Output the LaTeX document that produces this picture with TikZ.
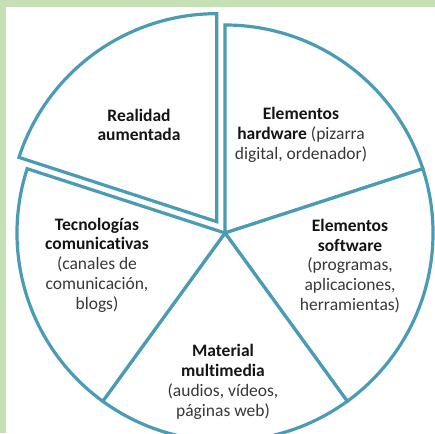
\documentclass[tikz,border=0pt]{standalone}
\usepackage{fontspec}
\setmainfont[Ligatures=NoCommon]{Carlito}
\usetikzlibrary{calc}
\definecolor{piegreen}{HTML}{C5E0B4}
\definecolor{pieblue}{HTML}{4A9BB5}
\newcommand{\piebold}[1]{\textbf{\color{black!92}#1}}

\begin{document}
\begin{tikzpicture}[x=1pt,y=1pt,
		sector/.style={draw=pieblue,line width=3.2pt,fill=white,line join=miter},
		lbl/.style={align=center,font=\fontsize{17.5}{19.8}\selectfont,text=black!78}]
	\fill[piegreen] (0,0) rectangle (435,433);
	\fill[white] (6,0) rectangle (435,426);
	\useasboundingbox (0,0) rectangle (435,433);
	\clip (0,0) rectangle (435,433);
	\coordinate (c) at (225,200);
	% four sectors in place
	\foreach \a in {18,-54,-126,-198}
	\draw[sector] (c) -- ++(\a:208) arc[start angle=\a, delta angle=72, radius=208] -- cycle;
	% the pulled out sector
	\coordinate (e) at ($(c)+(126:14)$);
	\draw[sector] (e) -- ++(90:208) arc[start angle=90, delta angle=72, radius=208] -- cycle;
	
	\node[lbl] (ra) at (139,308) {\piebold{Realidad}\\\piebold{aumentada}};
	\node[lbl] (hw) at (301,298) {\piebold{Elementos}\\\piebold{hardware} (pizarra\\digital, ordenador)};
	\node[lbl] (sw) at (350,167) {\piebold{Elementos}\\\piebold{software}\\(programas,\\aplicaciones,\\herramientas)};
	\node[lbl] (mm) at (223,51) {\piebold{Material}\\\piebold{multimedia}\\(audios, vídeos,\\páginas web)};
	\node[lbl] (tc) at (97,168) {\piebold{Tecnologías}\\\piebold{comunicativas}\\(canales de\\comunicación,\\blogs)};
\end{tikzpicture}
\end{document}
